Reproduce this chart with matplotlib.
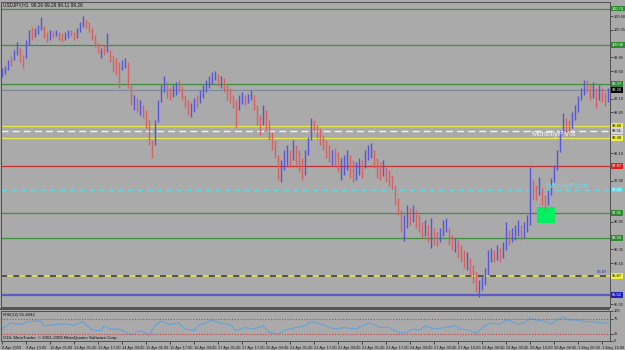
import matplotlib
matplotlib.use("Agg")
import matplotlib.pyplot as plt
import matplotlib.transforms as mtransforms
from matplotlib.patches import Rectangle

plt.rcParams['font.family'] = ['Liberation Sans', 'DejaVu Sans']

# ---- data (USDJPY, 2-hour steps) ----
symbol_text = "USDJPY,H1  99.26 99.29 99.11 99.26"
rsi_text = "RSI(12) 55.4041"
copyright_text = "ODL MetaTrader, \u00a9 2001-2008 MetaQuotes Software Corp."

highs = [
    99.66, 99.70, 99.80, 99.88, 99.99, 100.13, 100.02, 99.90, 100.17, 100.35,
    100.41, 100.39, 100.44, 100.59, 100.43, 100.32, 100.35, 100.33, 100.35, 100.32,
    100.30, 100.32, 100.35, 100.35, 100.32, 100.39, 100.50, 100.61, 100.53, 100.50,
    100.39, 100.26, 100.12, 100.02, 100.08, 100.30, 99.99, 99.90, 99.84, 99.77,
    99.80, 99.84, 99.77, 99.35, 99.17, 99.11, 99.07, 98.98, 98.89, 98.71,
    98.34, 98.71, 99.07, 99.35, 99.51, 99.40, 99.29, 99.35, 99.40, 99.44,
    99.33, 99.17, 99.07, 99.02, 99.11, 99.17, 99.26, 99.35, 99.44, 99.51,
    99.59, 99.60, 99.55, 99.51, 99.48, 99.35, 99.29, 99.17, 99.07, 99.17,
    99.22, 99.17, 99.18, 99.26, 99.17, 98.98, 98.80, 98.98, 98.89, 98.71,
    98.49, 98.34, 98.07, 97.98, 98.16, 98.25, 98.16, 98.34, 98.25, 98.16,
    98.02, 98.16, 98.40, 98.75, 98.71, 98.62, 98.56, 98.44, 98.34, 98.25,
    98.16, 98.20, 98.13, 98.02, 98.07, 98.16, 98.07, 97.98, 97.94, 98.02,
    97.98, 98.16, 98.25, 98.29, 98.16, 98.02, 97.94, 97.98, 97.89, 97.80,
    97.71, 97.52, 97.29, 97.07, 96.98, 97.16, 97.10, 97.16, 97.07, 96.98,
    96.85, 96.88, 96.79, 96.92, 96.74, 96.67, 96.74, 96.88, 96.92, 96.74,
    96.61, 96.56, 96.52, 96.43, 96.34, 96.30, 96.19, 96.06, 95.94, 95.79,
    95.88, 96.01, 96.34, 96.37, 96.34, 96.43, 96.37, 96.48, 96.85, 96.70,
    96.74, 96.79, 96.88, 96.79, 96.85, 96.98, 97.85, 97.61, 97.52, 97.67,
    97.47, 97.34, 97.43, 97.65, 97.89, 98.16, 98.53, 98.84, 98.75, 98.71,
    98.86, 98.98, 99.15, 99.29, 99.44, 99.44, 99.35, 99.40, 99.29, 99.35,
    99.29, 99.22, 99.29,
]
lows = [
    99.49, 99.55, 99.62, 99.70, 99.80, 99.90, 99.77, 99.66, 99.84, 100.08,
    100.17, 100.22, 100.28, 100.35, 100.21, 100.13, 100.17, 100.21, 100.24, 100.17,
    100.13, 100.17, 100.21, 100.24, 100.17, 100.21, 100.32, 100.41, 100.39, 100.32,
    100.17, 100.04, 99.93, 99.84, 99.90, 99.95, 99.77, 99.59, 99.53, 99.29,
    99.62, 99.66, 99.29, 98.98, 98.89, 98.86, 98.80, 98.75, 98.56, 98.25,
    98.02, 98.25, 98.67, 99.04, 99.22, 99.11, 99.07, 99.13, 99.17, 99.22,
    99.07, 98.93, 98.80, 98.76, 98.86, 98.93, 99.02, 99.11, 99.22, 99.29,
    99.37, 99.44, 99.33, 99.29, 99.22, 99.07, 99.02, 98.93, 98.58, 98.89,
    99.00, 98.98, 99.02, 99.07, 98.89, 98.62, 98.44, 98.62, 98.53, 98.34,
    98.16, 98.02, 97.61, 97.58, 97.80, 97.89, 97.83, 97.98, 97.89, 97.76,
    97.61, 97.71, 98.07, 98.34, 98.49, 98.38, 98.25, 98.16, 98.02, 97.94,
    97.89, 97.89, 97.76, 97.61, 97.71, 97.80, 97.65, 97.58, 97.61, 97.71,
    97.65, 97.83, 97.98, 98.02, 97.83, 97.65, 97.61, 97.69, 97.58, 97.51,
    97.43, 97.16, 96.98, 96.67, 96.50, 96.74, 96.79, 96.85, 96.74, 96.67,
    96.56, 96.59, 96.48, 96.37, 96.43, 96.41, 96.48, 96.59, 96.67, 96.43,
    96.34, 96.30, 96.19, 96.12, 96.01, 95.97, 95.86, 95.74, 95.57, 95.48,
    95.61, 95.70, 95.88, 96.12, 96.12, 96.15, 96.12, 96.19, 96.34, 96.43,
    96.48, 96.52, 96.59, 96.52, 96.56, 96.67, 96.79, 97.25, 97.25, 97.34,
    97.16, 97.07, 97.16, 97.34, 97.58, 97.80, 98.13, 98.44, 98.49, 98.42,
    98.56, 98.71, 98.86, 99.07, 99.17, 99.22, 99.07, 99.11, 98.93, 99.07,
    99.04, 98.97, 99.04,
]
# B = up bar, R = down bar
direction = "".join([
    "BBBRBBRRBB", "RBBBRRBRBR", "RBBRRBBBRR", "RRRBRBRRRR", "BBRRBRBRRR",
    "RBBBBRRBBR", "RRRBBRBBBB", "BBRBRRRRRB", "BRBBRRRBRR", "RRRBBBRBRR",
    "RBBBRRRRRR", "BRRBBBRRBB", "RBBBRRRBRR", "RRRRBBRBRR", "RBRBRRBBBR",
    "RBRRRBRRRB", "BBBBRBRBBR", "BBBRBBBRRB", "RRBBBBBBRR", "BBBBBRRBRB",
    "RRB",
])

rsi_bar = [0, 3, 6, 9, 13, 14, 18, 21, 24, 27,
           29, 31, 33, 34, 36, 39, 41, 43, 46, 49,
           51, 53, 56, 59, 61, 64, 66, 68, 70, 73,
           76, 78, 81, 84, 87, 89, 92, 94, 98, 101,
           103, 105, 108, 111, 114, 118, 121, 123, 126, 129,
           132, 134, 137, 139, 141, 144, 148, 151, 153, 156,
           158, 161, 163, 166, 168, 170, 172, 174, 176, 178,
           181, 183, 185, 187, 189, 192, 194, 197, 199, 202]
rsi_val = [40, 60, 55, 65, 67, 50, 55, 57, 52, 65,
           45, 35, 35, 50, 40, 40, 31, 20, 35, 20,
           50, 66, 55, 60, 40, 35, 55, 60, 70, 60,
           55, 35, 45, 40, 50, 30, 22, 35, 45, 50,
           65, 60, 50, 40, 45, 40, 55, 60, 45, 45,
           30, 25, 40, 35, 50, 40, 45, 50, 40, 35,
           25, 50, 60, 56, 70, 65, 56, 60, 75, 70,
           65, 56, 70, 80, 70, 70, 65, 65, 60, 60]
rsi_levels = [25, 75]

# horizontal levels drawn on the chart
green_levels = [100.74, 100.08, 99.37, 97.01, 96.56]
yellow_levels = [98.60, 98.38]
monthly_pivot = 98.51
red_level = 97.87
weekly_pivot = 97.44
dashed_level = 95.87
blue_level = 95.52
bid_price = 99.26

price_ticks = [100.85, 100.60, 100.35, 100.10, 99.85, 99.60, 99.35, 99.10, 98.85,
               98.60, 98.35, 98.10, 97.85, 97.60, 97.35, 97.10, 96.85, 96.60,
               96.35, 96.10, 95.85, 95.60, 95.35]

time_labels = ["8 Apr 2009", "9 Apr 13:00", "10 Apr 05:00", "13 Apr 01:00",
               "13 Apr 17:00", "14 Apr 09:00", "15 Apr 01:00", "15 Apr 17:00",
               "16 Apr 09:00", "17 Apr 01:00", "17 Apr 17:00", "20 Apr 09:00",
               "21 Apr 01:00", "21 Apr 17:00", "22 Apr 09:00", "23 Apr 01:00",
               "23 Apr 17:00", "24 Apr 09:00", "27 Apr 00:00", "27 Apr 16:00",
               "28 Apr 08:00", "29 Apr 00:00", "29 Apr 16:00", "30 Apr 08:00",
               "1 May 00:00", "1 May 16:00"]
bars_per_label = 8

box_zone = (178.4, 184.4, 96.83, 97.12)   # green box: bar from/to, price from/to

# ---- figure ----
W, H = 625, 350
bg = "#aaaaaa"
fig = plt.figure(figsize=(W / 100, H / 100), dpi=100, facecolor=bg)


def px_rect(x0, y0, x1, y1):
    return [x0 / W, 1 - y1 / H, (x1 - x0) / W, (y1 - y0) / H]


ax = fig.add_axes(px_rect(1, 2, 610, 307), facecolor=bg)
rx = fig.add_axes(px_rect(1, 311, 610, 341), facecolor=bg, sharex=ax)

n = len(highs)
xs = list(range(n))
up_col, dn_col = "#5555dd", "#dd5f5f"
cols = [up_col if d == "B" else dn_col for d in direction]
ax.vlines(xs, lows, highs, colors=cols, linewidth=1.0, zorder=3)

ax.set_xlim(-0.3, n - 0.3)
ax.set_ylim(95.30, 100.86)

# levels
for lv in green_levels:
    ax.axhline(lv, color="#3e8e3e", lw=0.9, zorder=2)
for lv in yellow_levels:
    ax.axhline(lv, color="#e8e84a", lw=0.9, zorder=2)
ax.axhline(monthly_pivot, color="#f2f2f2", lw=1.0, dashes=(5, 3), zorder=2)
ax.axhline(red_level, color="#c23030", lw=0.9, zorder=2)
ax.axhline(weekly_pivot, color="#66d6e0", lw=1.0, dashes=(4, 3), zorder=2)
ax.axhline(dashed_level, color="#e8e84a", lw=1.1, zorder=2)
ax.axhline(dashed_level, color="#303030", lw=1.1, dashes=(4, 4), zorder=2)
ax.axhline(blue_level, color="#5a5ac8", lw=1.6, zorder=2)
ax.axhline(bid_price, color="#7a8a9a", lw=0.8, zorder=2)

ax.add_patch(Rectangle((box_zone[0], box_zone[2]), box_zone[1] - box_zone[0],
                       box_zone[3] - box_zone[2], facecolor="#00f060",
                       edgecolor="none", zorder=2.5))

ax.text(176.5, monthly_pivot - 0.07, "MonthlyPivot", color="#f4f4f4",
        fontsize=5.5, va="center", ha="left", zorder=4)
ax.text(181.5, weekly_pivot + 0.05, "WeeklyPivot", color="#5ee0ee",
        fontsize=5.5, va="center", ha="left", zorder=4)
ax.text(n - 1.2, dashed_level + 0.03, f"{dashed_level:.2f}", color="#2030a0",
        fontsize=3.0, va="bottom", ha="right", zorder=4)

boxes = []
for lv in green_levels:
    boxes.append((lv, "#2e8a2e", "white"))
for lv in yellow_levels:
    boxes.append((lv, "#f0f040", "black"))
boxes += [(monthly_pivot, "#d8d8d8", "black"), (red_level, "#e02020", "white"),
          (weekly_pivot, "#40e4f0", "white"), (dashed_level, "#f0f040", "black"),
          (blue_level, "#2020c0", "white"), (bid_price, "#000000", "white")]

# right price scale: like MT4, plain labels give way to boxed ones
boxed = [b[0] for b in boxes]
shown = [t for t in price_ticks if all(abs(t - b) > 0.11 for b in boxed)]
ax.yaxis.tick_right()
ax.set_yticks(shown)
ax.set_yticklabels([f"{t:.2f}" for t in shown])
ax.tick_params(axis="y", labelsize=2.9, length=2, pad=0.8, colors="#202020",
               width=0.5)
ax.tick_params(axis="x", bottom=False, labelbottom=False)

tr = mtransforms.blended_transform_factory(ax.transAxes, ax.transData)
for lv, fc, tc in boxes:
    ax.text(1.003, lv, f"{lv:.2f}", transform=tr, fontsize=2.9, color=tc,
            va="center", ha="left", clip_on=False, zorder=10,
            bbox=dict(boxstyle="square,pad=0.2", fc=fc, ec="none"))

# RSI window
rx.plot(rsi_bar, rsi_val, color="#62a4dc", lw=0.8)
for lv in rsi_levels:
    rx.axhline(lv, color="#d04040", lw=0.8, dashes=(1, 1.5))
rx.set_ylim(0, 100)
rx.yaxis.tick_right()
rx.set_yticks([0, 25, 75, 100])
rx.tick_params(axis="y", labelsize=2.9, length=2, pad=0.8, colors="#202020",
               width=0.5)
tick_pos = [j * bars_per_label for j in range(len(time_labels))]
rx.set_xticks(tick_pos)
rx.set_xticklabels(time_labels)
for lab in rx.get_xticklabels():
    lab.set_horizontalalignment("left")
rx.tick_params(axis="x", labelsize=2.9, length=2.5, pad=1, colors="#202020",
               width=0.5)

for a in (ax, rx):
    for s in a.spines.values():
        s.set_color("#505050")
        s.set_linewidth(0.7)

# separator between windows
fig.patches.append(Rectangle((0, 1 - 310 / H), 610 / W, 2.5 / H,
                             transform=fig.transFigure, facecolor="#555555",
                             edgecolor="none"))

fig.text(3 / W, 1 - 5 / H, symbol_text, fontsize=3.4, color="#101010",
         va="center", ha="left")
fig.text(3 / W, 1 - 315 / H, rsi_text, fontsize=3.2, color="#101010",
         va="center", ha="left")
fig.text(3 / W, 1 - 337.5 / H, copyright_text, fontsize=3.2, color="#101010",
         va="center", ha="left")

fig.savefig("out.png", dpi=100, facecolor=bg)
